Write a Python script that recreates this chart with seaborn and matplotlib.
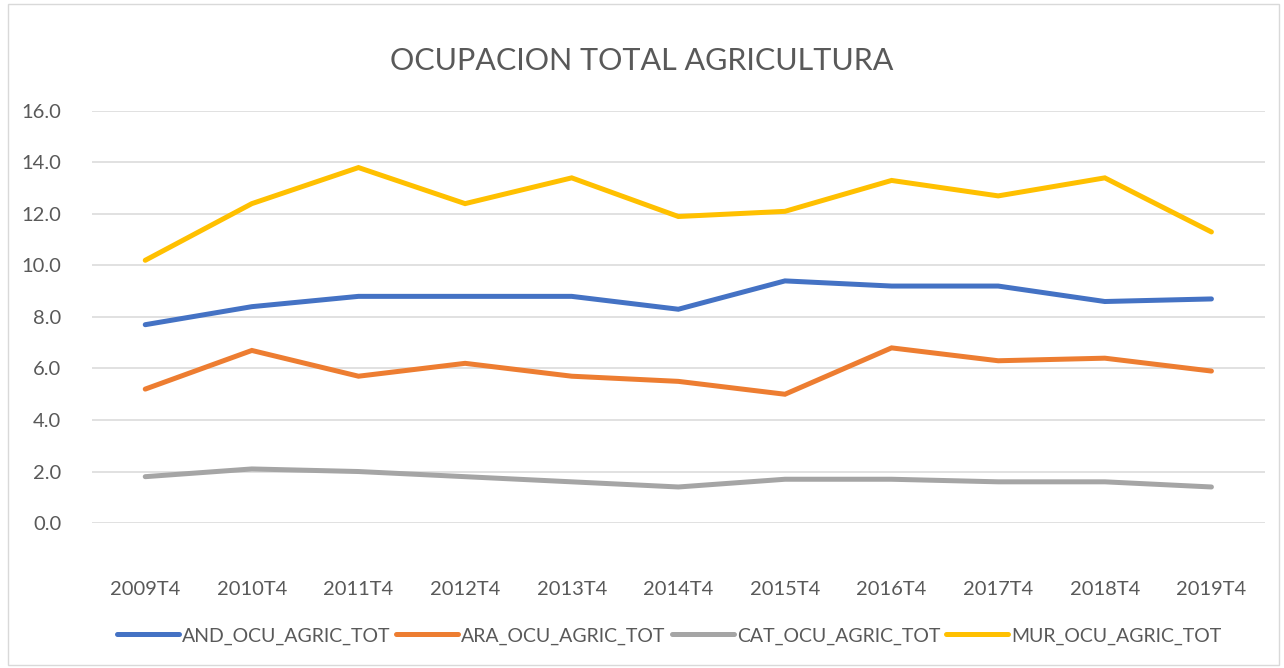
# Ocupacion total agricultura por comunidad

import pandas as pd
import seaborn as sns
import matplotlib.pyplot as plt
from matplotlib.patches import Rectangle

years = ['2009T4', '2010T4', '2011T4', '2012T4', '2013T4', '2014T4',
         '2015T4', '2016T4', '2017T4', '2018T4', '2019T4']
and_vals = [7.7, 8.4, 8.8, 8.8, 8.8, 8.3, 9.4, 9.2, 9.2, 8.6, 8.7]
ara_vals = [5.2, 6.7, 5.7, 6.2, 5.7, 5.5, 5.0, 6.8, 6.3, 6.4, 5.9]
cat_vals = [1.8, 2.1, 2.0, 1.8, 1.6, 1.4, 1.7, 1.7, 1.6, 1.6, 1.4]
mur_vals = [10.2, 12.4, 13.8, 12.4, 13.4, 11.9, 12.1, 13.3, 12.7, 13.4, 11.3]
series_names = ['AND_OCU_AGRIC_TOT', 'ARA_OCU_AGRIC_TOT', 'CAT_OCU_AGRIC_TOT', 'MUR_OCU_AGRIC_TOT']
colors = ['#4472C4', '#ED7D31', '#A5A5A5', '#FFC000']
y_ticks = [0, 2, 4, 6, 8, 10, 12, 14, 16]

# long format for seaborn
rows = []
for name, vals in zip(series_names, [and_vals, ara_vals, cat_vals, mur_vals]):
    for yr, v in zip(years, vals):
        rows.append({'Periodo': yr, 'Valor': v, 'Serie': name})
df = pd.DataFrame(rows)

sns.set_style('white')
plt.rcParams['font.family'] = ['Lato', 'DejaVu Sans']
text_color = '#595959'

fig = plt.figure(figsize=(12.84, 6.68), dpi=100)
ax = fig.add_axes([0.0716, 0.217, 0.9134, 0.617])

sns.lineplot(data=df, x='Periodo', y='Valor', hue='Serie', hue_order=series_names,
             palette=dict(zip(series_names, colors)), linewidth=3.6,
             solid_capstyle='round', solid_joinstyle='miter', ax=ax, legend=True)

ax.set_xlim(-0.5, len(years) - 0.5)
ax.set_ylim(0, 16)
ax.set_yticks(y_ticks)
ax.set_yticklabels([f'{t:.1f}' for t in y_ticks])
ax.yaxis.grid(True, color='#d9d9d9', linewidth=1.1)
ax.set_axisbelow(True)
ax.set_xlabel('')
ax.set_ylabel('')
ax.tick_params(axis='both', length=0, labelsize=14.5, labelcolor=text_color)
ax.tick_params(axis='x', pad=42)
ax.tick_params(axis='y', pad=22)
for s in ax.spines.values():
    s.set_visible(False)

handles, labels = ax.get_legend_handles_labels()
ax.get_legend().remove()
fig.legend(handles, labels, loc='center', bbox_to_anchor=(0.521, 0.048), ncol=4,
           frameon=False, fontsize=14, handlelength=3.2, handletextpad=0.15,
           columnspacing=0.3, labelcolor=text_color)

fig.suptitle('OCUPACION TOTAL AGRICULTURA', x=0.5, y=0.93, fontsize=22,
             color=text_color)

# chart border like Excel
fig.patches.append(Rectangle((0.006, 0.004), 0.99, 0.99, transform=fig.transFigure,
                             fill=False, edgecolor='#d9d9d9', linewidth=1))

fig.savefig('out.png', dpi=100)
